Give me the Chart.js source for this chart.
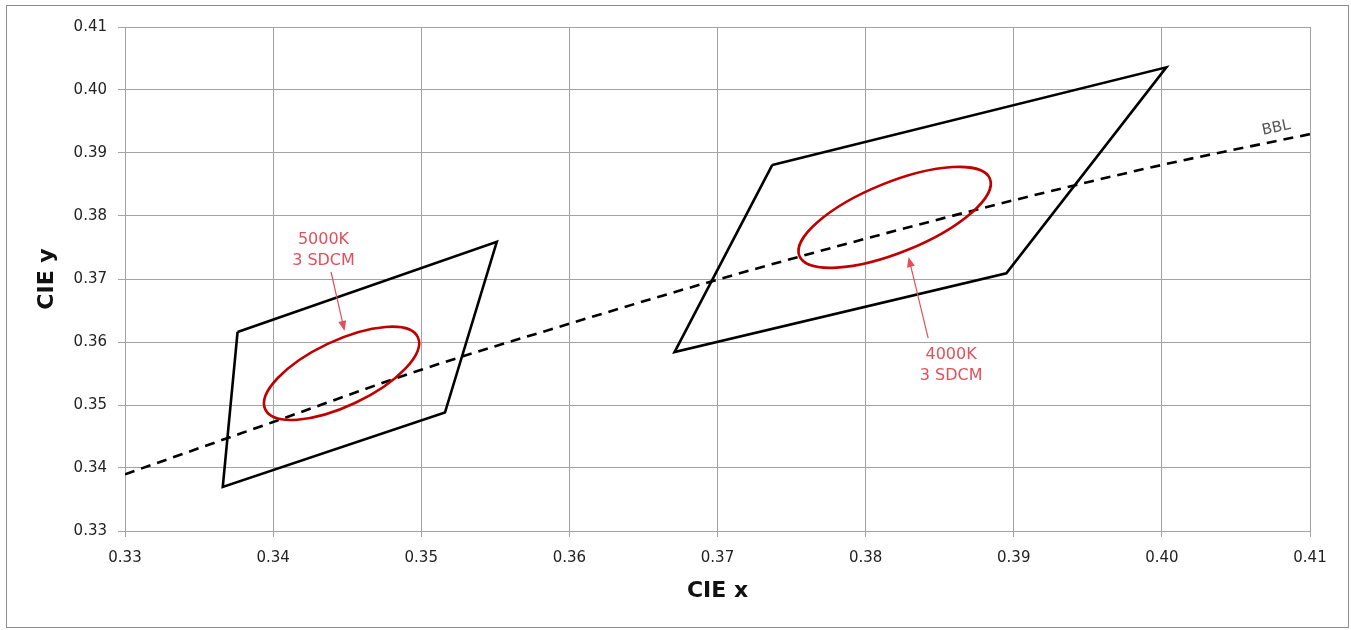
<!DOCTYPE html>
<html>
<head>
<meta charset="utf-8">
<script src="https://cdn.jsdelivr.net/npm/chart.js@4.4.1/dist/chart.umd.min.js"></script>
<style>
  html, body { margin: 0; padding: 0; background: #fff; }
  canvas { display: block; }
</style>
</head>
<body>
<canvas id="cie" width="1351" height="630"></canvas>
<script>
// axis ticks
var xTicks = [0.33, 0.34, 0.35, 0.36, 0.37, 0.38, 0.39, 0.40, 0.41];
var yTicks = [0.33, 0.34, 0.35, 0.36, 0.37, 0.38, 0.39, 0.40, 0.41];
var xTickLabels = ["0.33", "0.34", "0.35", "0.36", "0.37", "0.38", "0.39", "0.40", "0.41"];
var yTickLabels = ["0.33", "0.34", "0.35", "0.36", "0.37", "0.38", "0.39", "0.40", "0.41"];

// black body locus (dashed)
var bblX = [0.33, 0.34, 0.35, 0.36, 0.37, 0.38, 0.39, 0.40, 0.41];
var bblY = [0.3390, 0.3473, 0.3556, 0.3629, 0.3699, 0.3764, 0.3825, 0.3881, 0.3930];

// ANSI quadrangles
var quad5000X = [0.3376, 0.3551, 0.3516, 0.3366];
var quad5000Y = [0.3616, 0.3759, 0.3488, 0.3370];
var quad4000X = [0.3737, 0.4003, 0.3895, 0.3671];
var quad4000Y = [0.3881, 0.4036, 0.3709, 0.3584];

// 3 SDCM ellipses: centre, end of major axis, end of minor axis
var ellipseNames = ["5000K", "4000K"];
var ellipseCX = [0.34462, 0.38196];
var ellipseCY = [0.35503, 0.37979];
var ellipseMajX = [0.34977, 0.38839];
var ellipseMajY = [0.36076, 0.38593];
var ellipseMinX = [0.34556, 0.38285];
var ellipseMinY = [0.35035, 0.37464];

// labels with arrows
var noteLines = [["5000K", "3 SDCM"], ["4000K", "3 SDCM"]];
var noteX = [0.34340, 0.38577];
var noteY = [0.37619, 0.35794];
var arrowFromX = [0.34391, 0.38422];
var arrowFromY = [0.37111, 0.36063];
var arrowToX = [0.34482, 0.38290];
var arrowToY = [0.36175, 0.37349];

function pts(xs, ys, close) {
    var out = xs.map(function (x, i) { return { x: x, y: ys[i] }; });
    if (close) out.push({ x: xs[0], y: ys[0] });
    return out;
}

var gridColor = "#a3a3a3";
var tickFont = { family: "DejaVu Sans", size: 15 };
var titleFont = { family: "DejaVu Sans", size: 22, weight: "bold" };
var noteColor = "#e2505a";

var extras = {
    id: "extras",
    beforeDraw: function (chart) {
        var ctx = chart.ctx;
        ctx.save();
        ctx.fillStyle = "#fff";
        ctx.fillRect(0, 0, chart.width, chart.height);
        ctx.strokeStyle = "#8c8c8c";
        ctx.lineWidth = 1;
        ctx.strokeRect(6.5, 5.5, 1342, 622);
        ctx.restore();
    },
    afterDatasetsDraw: function (chart) {
        var ctx = chart.ctx, xs = chart.scales.x, ys = chart.scales.y;

        // ellipses
        for (var i = 0; i < ellipseNames.length; i++) {
            var cx = xs.getPixelForValue(ellipseCX[i]), cy = ys.getPixelForValue(ellipseCY[i]);
            var ux = xs.getPixelForValue(ellipseMajX[i]) - cx, uy = ys.getPixelForValue(ellipseMajY[i]) - cy;
            var vx = xs.getPixelForValue(ellipseMinX[i]) - cx, vy = ys.getPixelForValue(ellipseMinY[i]) - cy;
            ctx.save();
            ctx.beginPath();
            ctx.transform(ux, uy, vx, vy, cx, cy);
            ctx.arc(0, 0, 1, 0, Math.PI * 2);
            ctx.restore();
            ctx.save();
            ctx.strokeStyle = "#c00000";
            ctx.lineWidth = 2.6;
            ctx.stroke();
            ctx.restore();
        }

        // notes + arrows
        ctx.save();
        ctx.fillStyle = noteColor;
        ctx.strokeStyle = noteColor;
        ctx.font = "16px 'DejaVu Sans'";
        ctx.textAlign = "center";
        ctx.textBaseline = "middle";
        for (var j = 0; j < noteLines.length; j++) {
            var tx = xs.getPixelForValue(noteX[j]), ty = ys.getPixelForValue(noteY[j]);
            noteLines[j].forEach(function (line, k) {
                ctx.fillText(line, tx, ty + k * 21);
            });
            var x0 = xs.getPixelForValue(arrowFromX[j]), y0 = ys.getPixelForValue(arrowFromY[j]);
            var x1 = xs.getPixelForValue(arrowToX[j]), y1 = ys.getPixelForValue(arrowToY[j]);
            var ang = Math.atan2(y1 - y0, x1 - x0);
            ctx.lineWidth = 1.2;
            ctx.beginPath();
            ctx.moveTo(x0, y0);
            ctx.lineTo(x1 - 6 * Math.cos(ang), y1 - 6 * Math.sin(ang));
            ctx.stroke();
            ctx.beginPath();
            ctx.moveTo(x1, y1);
            ctx.lineTo(x1 - 10 * Math.cos(ang) + 4 * Math.sin(ang), y1 - 10 * Math.sin(ang) - 4 * Math.cos(ang));
            ctx.lineTo(x1 - 10 * Math.cos(ang) - 4 * Math.sin(ang), y1 - 10 * Math.sin(ang) + 4 * Math.cos(ang));
            ctx.closePath();
            ctx.fill();
        }
        ctx.restore();

        // BBL label
        var bx = xs.getPixelForValue(0.40772), by = ys.getPixelForValue(0.39397);
        ctx.save();
        ctx.translate(bx, by);
        ctx.rotate(-12 * Math.PI / 180);
        ctx.font = "15px 'DejaVu Sans'";
        ctx.fillStyle = "#555";
        ctx.textAlign = "center";
        ctx.textBaseline = "middle";
        ctx.fillText("BBL", 0, 0);
        ctx.restore();
    }
};

var lineStyle = {
    showLine: true,
    fill: false,
    borderColor: "#000",
    borderWidth: 2.6,
    pointRadius: 0,
    pointHoverRadius: 0,
    borderJoinStyle: "miter"
};

new Chart(document.getElementById("cie").getContext("2d"), {
    type: "scatter",
    data: {
        datasets: [
            Object.assign({}, lineStyle, {
                label: "BBL",
                data: pts(bblX, bblY, false),
                borderDash: [10, 7],
                cubicInterpolationMode: "monotone"
            }),
            Object.assign({}, lineStyle, { label: "5000K", data: pts(quad5000X, quad5000Y, true), tension: 0 }),
            Object.assign({}, lineStyle, { label: "4000K", data: pts(quad4000X, quad4000Y, true), tension: 0 })
        ]
    },
    options: {
        responsive: false,
        animation: false,
        devicePixelRatio: 1,
        layout: { padding: { top: 27, right: 41, left: 0, bottom: 0 } },
        plugins: { legend: { display: false }, tooltip: { enabled: false } },
        scales: {
            x: {
                type: "linear",
                min: 0.33,
                max: 0.41,
                afterBuildTicks: function (s) { s.ticks = xTicks.map(function (v) { return { value: v }; }); },
                afterFit: function (s) { s.height = 99; },
                ticks: {
                    autoSkip: false,
                    maxRotation: 0,
                    padding: 12,
                    color: "#222",
                    font: tickFont,
                    callback: function (value, index) { return xTickLabels[index]; }
                },
                grid: { color: gridColor, lineWidth: 1, tickLength: 6 },
                border: { color: gridColor },
                title: { display: true, text: "CIE x", color: "#111", font: titleFont, padding: { top: 0, bottom: 26 } }
            },
            y: {
                type: "linear",
                min: 0.33,
                max: 0.41,
                afterBuildTicks: function (s) { s.ticks = yTicks.map(function (v) { return { value: v }; }); },
                afterFit: function (s) { s.width = 125; },
                ticks: {
                    autoSkip: false,
                    padding: 11,
                    color: "#222",
                    font: tickFont,
                    callback: function (value, index) { return yTickLabels[index]; }
                },
                grid: { color: gridColor, lineWidth: 1, tickLength: 7 },
                border: { color: gridColor },
                title: { display: true, text: "CIE y", color: "#111", font: titleFont, padding: { top: 33.8, bottom: 0 } }
            }
        }
    },
    plugins: [extras]
});
</script>
</body>
</html>
